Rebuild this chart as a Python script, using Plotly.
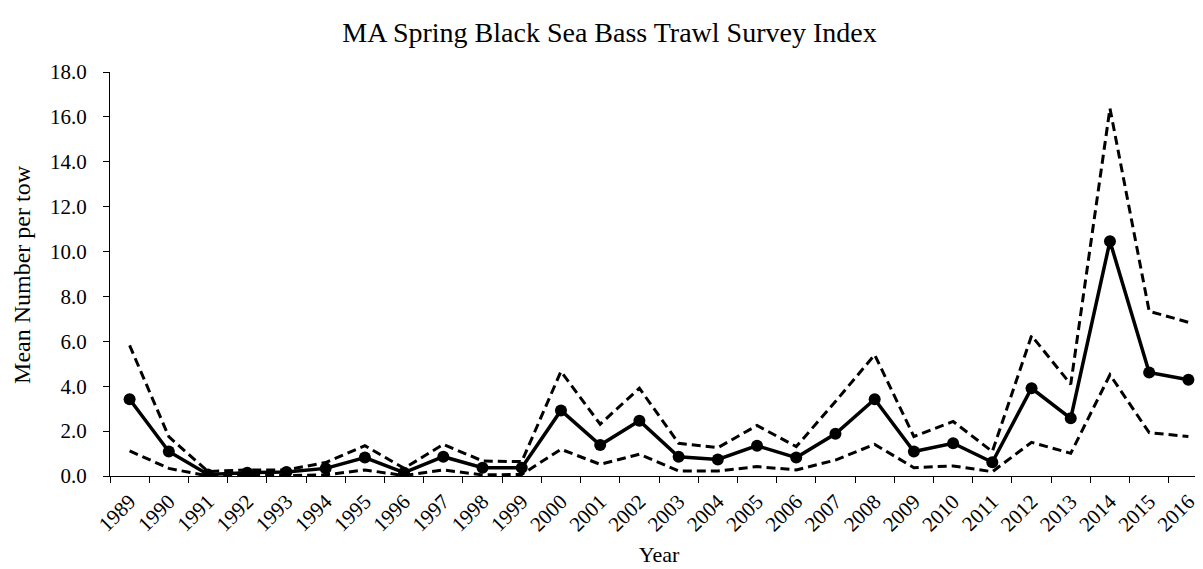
import plotly.graph_objects as go

years = [str(y) for y in range(1989, 2017)]
mean_idx = [3.42, 1.09, 0.07, 0.15, 0.18, 0.34, 0.82, 0.15, 0.86, 0.37, 0.37, 2.92, 1.38, 2.46,
            0.86, 0.74, 1.35, 0.82, 1.88, 3.42, 1.09, 1.46, 0.61, 3.91, 2.57, 10.46, 4.61, 4.29]
upper_ci = [5.82, 1.75, 0.20, 0.27, 0.27, 0.60, 1.35, 0.34, 1.41, 0.67, 0.64, 4.66, 2.31, 3.91,
            1.46, 1.26, 2.25, 1.31, 3.32, 5.40, 1.76, 2.43, 1.09, 6.25, 4.09, 16.38, 7.34, 6.85]
lower_ci = [1.12, 0.34, 0.00, 0.05, 0.02, 0.05, 0.27, 0.02, 0.27, 0.05, 0.07, 1.19, 0.52, 0.97,
            0.22, 0.22, 0.42, 0.27, 0.71, 1.41, 0.37, 0.45, 0.19, 1.50, 1.01, 4.51, 1.93, 1.76]
y_ticks = [0, 2, 4, 6, 8, 10, 12, 14, 16, 18]

FONT = "Liberation Serif, Times New Roman, serif"

fig = go.Figure()
fig.add_trace(go.Scatter(x=years, y=upper_ci, mode="lines",
                         line=dict(color="black", width=3, dash="9px,5px"), showlegend=False))
fig.add_trace(go.Scatter(x=years, y=lower_ci, mode="lines",
                         line=dict(color="black", width=3, dash="9px,5px"), showlegend=False))
fig.add_trace(go.Scatter(x=years, y=mean_idx, mode="lines+markers",
                         line=dict(color="black", width=3.5),
                         marker=dict(color="black", size=12), showlegend=False))

fig.update_layout(
    width=1203, height=569,
    paper_bgcolor="white", plot_bgcolor="white",
    margin=dict(l=102, r=3, t=64, b=101),
    font=dict(family=FONT, color="black", size=21),
    title=dict(text="MA Spring Black Sea Bass Trawl Survey Index", x=0.5, xanchor="center",
               y=0.958, yanchor="middle", font=dict(family=FONT, size=28, color="black")),
    annotations=[dict(text="Mean Number per tow", textangle=-90, xref="paper", yref="paper",
                      x=-0.0802, y=0.5, xanchor="center", yanchor="middle", showarrow=False,
                      font=dict(family=FONT, size=24, color="black"))],
)
fig.update_xaxes(type="category", range=[-0.5, 27.5], tickangle=-45, tickson="boundaries",
                 ticks="outside", ticklen=6, tickcolor="black", showline=True, linecolor="black",
                 linewidth=1, showgrid=False, zeroline=False, ticklabelstandoff=4,
                 tickfont=dict(family=FONT, size=21, color="black"),
                 title=dict(text="Year", font=dict(family=FONT, size=22, color="black"), standoff=11))
fig.update_yaxes(range=[0, 18], tickvals=y_ticks, ticktext=[f"{v:.1f}" for v in y_ticks],
                 ticks="outside", ticklen=6, tickcolor="black", showline=True, linecolor="black",
                 linewidth=1, showgrid=False, zeroline=False, ticklabelstandoff=12,
                 tickfont=dict(family=FONT, size=21, color="black"))

fig.write_html("out.html")
